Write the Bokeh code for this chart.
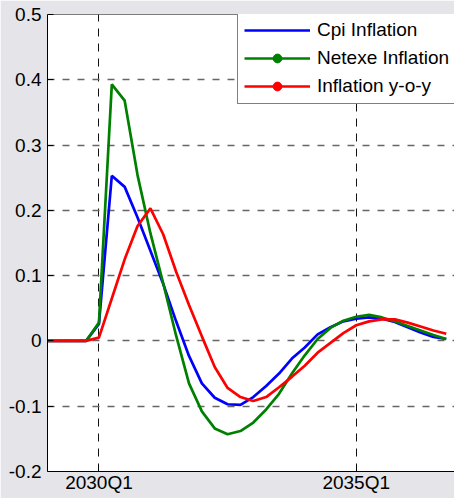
import numpy as np
from bokeh.plotting import figure
from bokeh.models import ColumnDataSource, FixedTicker, Legend, LegendItem, Span
from bokeh.embed import file_html
from bokeh.resources import INLINE

# ---------------- data ----------------
quarters = [
    "2029Q1", "2029Q2", "2029Q3", "2029Q4",
    "2030Q1", "2030Q2", "2030Q3", "2030Q4",
    "2031Q1", "2031Q2", "2031Q3", "2031Q4",
    "2032Q1", "2032Q2", "2032Q3", "2032Q4",
    "2033Q1", "2033Q2", "2033Q3", "2033Q4",
    "2034Q1", "2034Q2", "2034Q3", "2034Q4",
    "2035Q1", "2035Q2", "2035Q3", "2035Q4",
    "2036Q1", "2036Q2", "2036Q3", "2036Q4",
]

cpi_inflation = [
    0.0, 0.0, 0.0, 0.0,
    0.026, 0.253, 0.236, 0.189,
    0.138, 0.087, 0.030, -0.023,
    -0.065, -0.087, -0.097, -0.098,
    -0.086, -0.069, -0.050, -0.027,
    -0.010, 0.010, 0.021, 0.030,
    0.034, 0.036, 0.034, 0.029,
    0.021, 0.013, 0.006, 0.003,
]

netexe_inflation = [
    0.0, 0.0, 0.0, 0.0,
    0.028, 0.393, 0.368, 0.254,
    0.165, 0.088, 0.008, -0.065,
    -0.108, -0.134, -0.143, -0.138,
    -0.125, -0.105, -0.081, -0.050,
    -0.022, 0.003, 0.020, 0.031,
    0.037, 0.040, 0.036, 0.030,
    0.023, 0.016, 0.009, 0.003,
]

inflation_yoy = [
    0.0, 0.0, 0.0, 0.0,
    0.005, 0.065, 0.125, 0.176,
    0.203, 0.163, 0.106, 0.055,
    0.007, -0.040, -0.072, -0.086,
    -0.092, -0.086, -0.071, -0.055,
    -0.038, -0.018, -0.003, 0.012,
    0.024, 0.030, 0.033, 0.033,
    0.028, 0.022, 0.016, 0.011,
]

series_labels = ["Cpi Inflation", "Netexe Inflation", "Inflation y-o-y"]
x_tick_labels = ["2030Q1", "2035Q1"]
y_ticks = [-0.2, -0.1, 0.0, 0.1, 0.2, 0.3, 0.4, 0.5]
y_tick_labels = ["-0.2", "-0.1", "0", "0.1", "0.2", "0.3", "0.4", "0.5"]

# ---------------- figure ----------------
x = list(range(len(quarters)))
source = ColumnDataSource(dict(x=x, quarter=quarters, cpi=cpi_inflation,
                               netexe=netexe_inflation, yoy=inflation_yoy))

p = figure(width=454, height=498, output_backend="svg", toolbar_location=None,
           x_range=(0, 31.64), y_range=(-0.2, 0.5),
           min_border_left=47, min_border_right=0,
           min_border_top=14, min_border_bottom=27)

p.outline_line_color = None
p.background_fill_color = "white"
p.border_fill_color = "#e4e4e9"

x_tick_pos = [quarters.index(l) for l in x_tick_labels]
p.xaxis.ticker = FixedTicker(ticks=x_tick_pos)
p.xaxis.major_label_overrides = {pos: lab for pos, lab in zip(x_tick_pos, x_tick_labels)}
p.yaxis.ticker = FixedTicker(ticks=y_ticks)
p.yaxis.major_label_overrides = {t: lab for t, lab in zip(y_ticks, y_tick_labels)}

for ax in (p.xaxis[0], p.yaxis[0]):
    ax.axis_line_color = "black"
    ax.axis_line_width = 1
    ax.major_tick_line_color = "black"
    ax.major_tick_in = 6
    ax.major_tick_out = 0
    ax.minor_tick_line_color = None
    ax.major_label_text_font = "Liberation Sans"
    ax.major_label_text_font_size = "19px"
    ax.major_label_text_color = "black"
p.yaxis.major_label_standoff = 6
p.xaxis.major_label_standoff = 0

p.xgrid.grid_line_color = "#111111"
p.xgrid.grid_line_width = 1
p.xgrid.grid_line_dash = "8 7"
p.ygrid.grid_line_color = "#666666"
p.ygrid.grid_line_width = 1.5
p.ygrid.grid_line_dash = "7 8"

# top border line of the axes box
p.add_layout(Span(location=0.5, dimension="width", line_color="black", line_width=1))

r_cpi = p.line("x", "cpi", source=source, line_color="#0000ff", line_width=2.7)
r_net = p.line("x", "netexe", source=source, line_color="#008000", line_width=2.7)
r_yoy = p.line("x", "yoy", source=source, line_color="#ff0000", line_width=2.7)

# marker glyphs that only appear in the legend
mk_src = ColumnDataSource(dict(x=[np.nan], y=[np.nan]))
m_net = p.scatter("x", "y", source=mk_src, marker="circle", size=7,
                  fill_color="#008000", line_color="#008000")
m_yoy = p.scatter("x", "y", source=mk_src, marker="circle", size=7,
                  fill_color="#ff0000", line_color="#ff0000")

legend = Legend(items=[
    LegendItem(label=series_labels[0], renderers=[r_cpi]),
    LegendItem(label=series_labels[1], renderers=[r_net, m_net]),
    LegendItem(label=series_labels[2], renderers=[r_yoy, m_yoy]),
], location=(190, 367))
legend.border_line_color = "black"
legend.border_line_width = 1
legend.background_fill_color = "white"
legend.background_fill_alpha = 1
legend.padding = 6
legend.spacing = 6
legend.margin = 0
legend.glyph_width = 66
legend.glyph_height = 22
legend.label_height = 22
legend.label_standoff = 7
legend.label_text_font = "Liberation Sans"
legend.label_text_font_size = "19px"
legend.label_text_color = "black"
p.add_layout(legend)

open("out.html", "w").write(file_html(p, INLINE))
